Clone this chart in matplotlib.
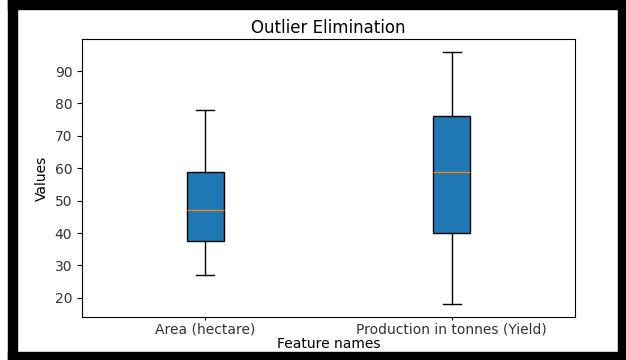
import matplotlib
matplotlib.use("Agg")
import matplotlib.pyplot as plt
from matplotlib.patches import Rectangle

# box statistics
features = ['Area (hectare)', 'Production in tonnes (Yield)']
whisker_lo = [27, 18]
q1 = [37.5, 40]
medians = [47, 59]
q3 = [59, 76]
whisker_hi = [78, 96]

stats = []
for i, name in enumerate(features):
    stats.append({'label': name, 'whislo': whisker_lo[i], 'q1': q1[i],
                  'med': medians[i], 'q3': q3[i], 'whishi': whisker_hi[i],
                  'fliers': []})

fig = plt.figure(figsize=(6.26, 3.6), dpi=100)
W, H = 626, 360
ax = fig.add_axes([82 / W, 1 - 317 / H, (575 - 82) / W, (317 - 39) / H])

ax.bxp(stats, positions=[1, 2], widths=0.15, patch_artist=True,
       boxprops=dict(facecolor='C0'))
ax.set_xlim(0.5, 2.5)
ax.set_ylim(14.1, 99.9)
ax.set_title('Outlier Elimination', pad=4.5)
ax.set_xlabel('Feature names', labelpad=0.5)
ax.set_ylabel('Values')
ax.tick_params(axis='x', length=2, pad=2)
for lab in ax.get_xticklabels() + ax.get_yticklabels():
    lab.set_color('#333333')

# thick black frame around the picture
for x0, y0, w, h in [(8, 0, 9, 360), (8, 0, 618, 9), (618, 0, 8, 360), (8, 352, 618, 8)]:
    fig.patches.append(Rectangle((x0 / W, 1 - (y0 + h) / H), w / W, h / H,
                                 transform=fig.transFigure, color='black', zorder=10))

fig.savefig('out.png', dpi=100)
